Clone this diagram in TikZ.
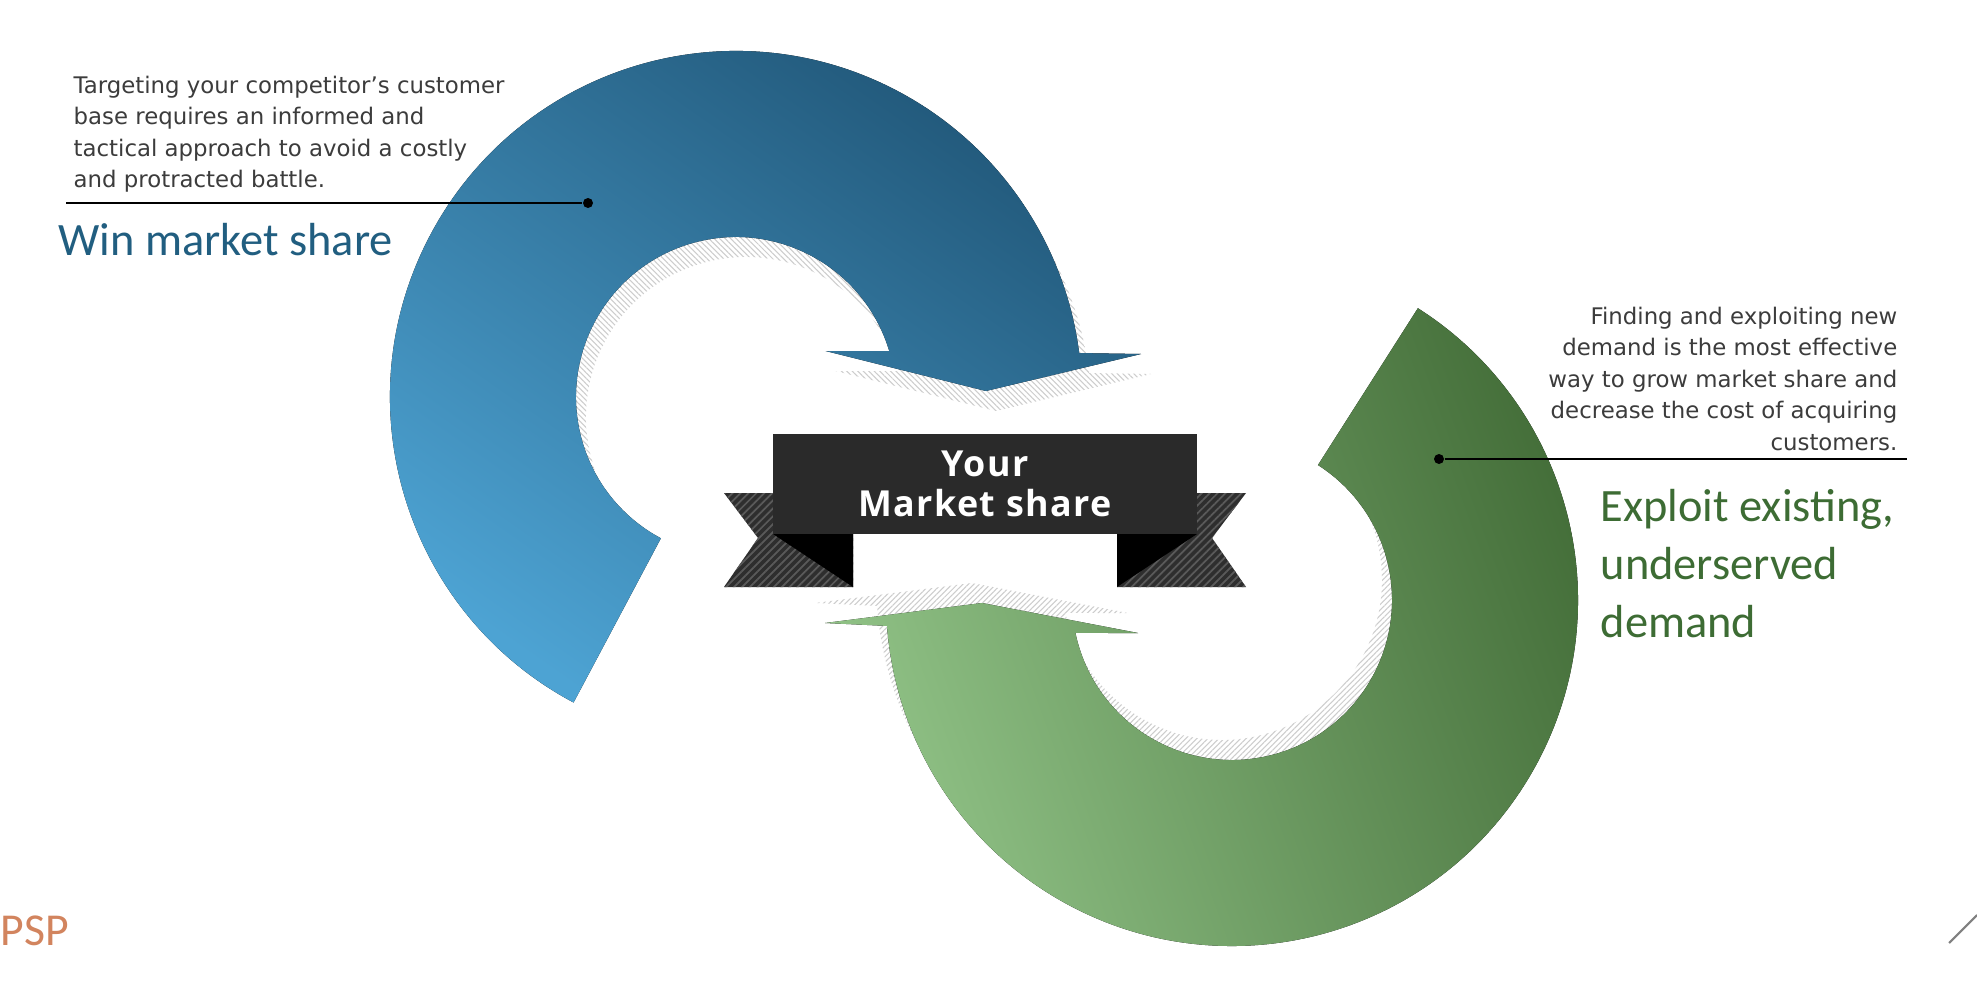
\documentclass[tikz,border=0pt]{standalone}
\usepackage{fontspec}
\setmainfont{DejaVu Sans}
\newfontfamily\headfont{Carlito}
\newfontfamily\ribbonfont{Open Sans}[LetterSpace=4]
\usetikzlibrary{calc,patterns.meta}

\definecolor{bluedark}{HTML}{1F5475}
\definecolor{bluelight}{HTML}{4DA3D3}
\definecolor{greendark}{HTML}{436D38}
\definecolor{greenlight}{HTML}{92C488}
\definecolor{bluetitle}{HTML}{215E80}
\definecolor{greentitle}{HTML}{3D6C34}
\definecolor{bodygray}{HTML}{3C3C3C}
\definecolor{ribbongray}{HTML}{2A2A2A}
\definecolor{tailgray}{HTML}{2E2E2E}
\definecolor{tailline}{HTML}{5A5A5A}
\definecolor{hatchgray}{HTML}{CDCDCD}
\definecolor{pspcolor}{HTML}{D2845E}

\newcommand{\bluearrow}{($(7.36,5.98)+(242:3.46)$)
    arc[start angle=242,end angle=7.3,radius=3.46]
    -- (11.41,6.41) -- (9.86,6.04) -- (8.255,6.44)
    -- ($(7.36,5.98)+(16.7:1.6)$)
    arc[start angle=16.7,end angle=242,radius=1.6] -- cycle}
\newcommand{\greenarrow}{($(12.32,3.95)+(57.5:3.46)$)
    arc[start angle=57.5,end angle=-175.7,radius=3.46]
    -- (8.25,3.72) -- (9.82,3.92) -- (11.38,3.62)
    -- ($(12.32,3.95)+(-168.1:1.6)$)
    arc[start angle=-168.1,end angle=57.5,radius=1.6] -- cycle}

\begin{document}
\begin{tikzpicture}[x=1cm,y=1cm,
    bodytext/.style={inner sep=0pt,text=bodygray,font=\fontsize{6.5}{9}\selectfont},
    headtext/.style={inner sep=0pt,font=\headfont\fontsize{13.2}{16.4}\selectfont},
    ribbonbox/.style={fill=ribbongray,text=white,inner sep=0pt,minimum width=4.24cm,
        minimum height=1cm,align=center,font=\ribbonfont\bfseries\fontsize{10.2}{11.4}\selectfont},
    tailbox/.style={fill=tailgray,postaction={pattern={Lines[angle=45,distance=1.6pt,line width=0.5pt]},
        pattern color=tailline}},
    bluehatch/.style={pattern={Lines[angle=-45,distance=1.1pt,line width=0.3pt]},pattern color=hatchgray},
    greenhatch/.style={pattern={Lines[angle=45,distance=1.1pt,line width=0.3pt]},pattern color=hatchgray},
    leaderdot/.style={circle,fill=black,inner sep=0pt,minimum size=0.1cm},
    leader/.style={line width=0.45pt,black}]
    \fill[white] (0,0) rectangle (19.77,9.95);
    \useasboundingbox (0,0) rectangle (19.77,9.95);

    \begin{scope}
        \clip (0,4.85) rectangle (19.77,9.95);
        \path[bluehatch,shift={(0.1,-0.2)}] \bluearrow;
    \end{scope}
    \begin{scope}
        \clip (0,0) rectangle (19.77,5.15);
        \path[greenhatch,shift={(-0.1,0.2)}] \greenarrow;
    \end{scope}

    \fill[top color=bluedark,bottom color=bluelight,shading angle=-35] \bluearrow;
    \fill[top color=greendark,bottom color=greenlight,shading angle=-70] \greenarrow;

    \begin{scope}[shift={(9.85,5.11)}]
        \foreach \s in {-1,1}{
            \fill[tailbox] (\s*2.61,-0.09) -- (\s*1.32,-0.09) -- (\s*1.32,-1.03)
                -- (\s*2.61,-1.03) -- (\s*2.27,-0.54) -- cycle;
            \fill[black] (\s*2.12,-0.50) -- (\s*1.32,-0.50) -- (\s*1.32,-1.03) -- cycle;
        }
    \end{scope}
    \node[ribbonbox] (rib) at (9.85,5.11) {Your\\Market share};

    \node[bodytext,anchor=north west,align=left] (wintext) at (0.73,9.20)
        {Targeting your competitor’s customer\\base requires an informed and\\tactical approach to avoid a costly\\and protracted battle.};
    \node[headtext,text=bluetitle,anchor=base west] (winhead) at (0.58,7.40) {Win market share};
    \node[leaderdot] (windot) at (5.88,7.92) {};
    \coordinate (winend) at (0.66,7.92);
    \draw[leader] (winend) -- (windot);

    \node[bodytext,anchor=north east,align=right] (exptext) at (18.98,6.89)
        {Finding and exploiting new\\demand is the most effective\\way to grow market share and\\decrease the cost of acquiring\\customers.};
    \node[headtext,text=greentitle,anchor=north west,align=left] (exphead) at (16.0,5.06)
        {Exploit existing,\\underserved\\demand};
    \node[leaderdot] (expdot) at (14.39,5.36) {};
    \coordinate (expend) at (19.07,5.36);
    \draw[leader] (expdot) -- (expend);

    \node[headtext,text=pspcolor,anchor=base west,font=\headfont\fontsize{13}{13}\selectfont] (psp) at (0,0.50) {PSP};
    \coordinate (cornera) at (19.49,0.52);
    \coordinate (cornerb) at (19.77,0.80);
    \draw[gray,line width=0.6pt] (cornera) -- (cornerb);
\end{tikzpicture}
\end{document}
